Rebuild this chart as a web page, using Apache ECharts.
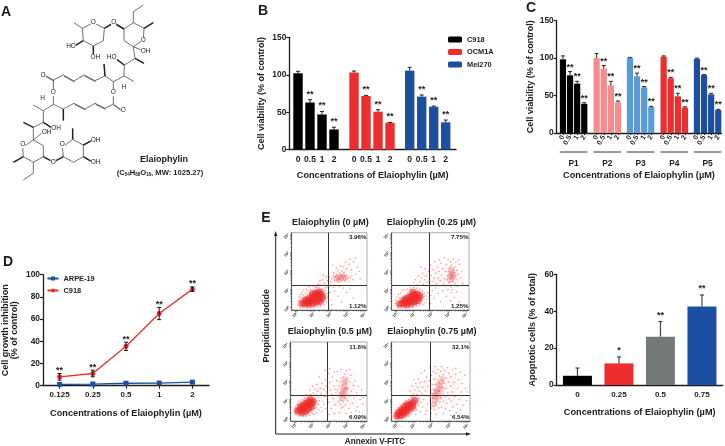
<!DOCTYPE html>
<html>
<head>
<meta charset="utf-8">
<title>Elaiophylin</title>
<style>html,body{margin:0;background:#fff}#main{width:725px;height:446px}</style>
<script src="https://cdn.jsdelivr.net/npm/echarts@6/dist/echarts.min.js"></script>
</head>
<body>
<div id="main"></div>
<script>
// panel B
var bConc = ['0', '0.5', '1', '2'];
var bC918 = [102, 63, 47, 27];
var bC918Top = [104.6, 66.7, 51, 30];
var bOcm = [103, 71.7, 50.7, 36];
var bOcmTop = [105, 72.5, 53.4, 36.3];
var bMel = [105.5, 70.8, 57.4, 36.5];
var bMelTop = [110, 73, 58.3, 39.6];
var bStars = ['', '**', '**', '**'];

// panel C
var cPassages = ['P1', 'P2', 'P3', 'P4', 'P5'];
var cVals = [[98.4, 77, 66, 39], [100, 86, 63.6, 41], [100.5, 75.7, 61, 34.7], [102, 73, 49, 34], [99, 77.4, 51.6, 30.7]];
var cTops = [[103, 82, 69, 40.5], [106, 90, 69, 42.7], [101, 80, 62, 35.6], [103, 74.3, 53, 35], [100, 78, 53, 31.6]];
var cColors = ['#000000', '#f58b8b', '#5b9ad6', '#ee2e2e', '#1c4fa1'];

// panel D
var dConc = ['0.125', '0.25', '0.5', '1', '2'];
var dArpe = [1.2, 1.5, 2.2, 2.4, 3.2];
var dArpeErr = [1, 1, 1, 1, 1];
var dC918 = [8, 11, 35.5, 65, 87];
var dC918Err = [3, 3, 3.7, 5.5, 2];
var dStars = ['**', '**', '**', '**', '**'];

// bar chart next to the flow plots
var fConc = ['0', '0.25', '0.5', '0.75'];
var fVals = [5, 11.7, 26.2, 42.5];
var fTops = [9.2, 15.2, 34.4, 48.8];
var fStars = ['', '*', '**', '**'];
var fColors = ['#000000', '#ee2e2e', '#747a7a', '#1c4fa1'];

// flow plots, log10 units of Annexin V-FITC and propidium iodide
var flowTitles = ['Elaiophylin (0 µM)', 'Elaiophylin (0.25 µM)', 'Elaiophylin (0.5 µM)', 'Elaiophylin (0.75 µM)'];
var flowUpper = ['3.96%', '7.75%', '11.8%', '32.1%'];
var flowLower = ['1.12%', '1.25%', '6.09%', '6.54%'];
var flowGates = [[1.83, 1.2], [1.86, 1.2], [1.83, 1.2], [1.88, 1.22]];

var flow0Core = [[0.3,0.22],[0.45,0.2],[0.6,0.28],[0.75,0.3],[0.9,0.35],[1.05,0.42],[1.2,0.45],[1.35,0.5],[0.5,0.4],[0.7,0.48],[0.9,0.55],[1.1,0.62],[1.25,0.68],[1.4,0.72],[0.7,0.18],[0.95,0.22],[1.15,0.28],[1.35,0.32],[1.5,0.55],[1.1,0.78],[0.9,0.72],[1.3,0.82]];
var flow0Mid = [[2.3,1.6],[2.55,1.65],[2.8,1.6],[2.45,1.5],[2.7,1.72]];
var flow0Haze = [[2.5,1.7],[2.9,1.7],[2.2,1.6],[3.05,2.3],[1.6,1.4],[1.5,1]];
var flow0Dots = [[2.05,1.55],[2.12,1.72],[2.2,1.48],[2.25,1.63],[2.3,1.8],[2.34,1.55],[2.38,1.42],[2.42,1.7],[2.46,1.6],[2.5,1.85],[2.53,1.5],[2.56,1.66],[2.6,1.75],[2.64,1.45],[2.68,1.6],[2.72,1.52],[2.75,1.9],[2.78,1.68],[2.82,1.44],[2.86,1.6],[2.9,1.75],[2.95,1.55],[3,1.66],[3.05,1.4],[3.12,1.6],[3.2,1.72],[3.28,1.5],[1.98,1.38],[2.15,1.9],[2.4,2],[2.62,1.98],[2.28,1.68],[2.48,1.52],[2.7,1.72],[2.52,1.72],[2.36,1.74],[2.84,1.52],[2.7,2.2],[2.9,2.1],[3.05,2.35],[3.2,2.05],[3.3,2.5],[3.42,2.68],[3.1,2.62],[2.85,2.45],[3.55,2.2],[3.65,1.95],[3.45,1.8],[3.7,1.55],[2.55,2.25],[2.3,2.15],[2.1,2.3],[1.4,1.2],[1.5,1.5],[1.6,1.3],[1.7,1.65],[1.75,1.1],[1.8,1.45],[1.55,1.75],[1.35,1.45],[1.25,1.25],[1.65,1.05],[1.85,1.25],[1.9,1.65],[1.15,1.1],[2,0.4],[2.2,0.9],[2.4,0.6],[2.6,0.3],[2.9,0.8],[2.15,1.1],[2.5,1.15],[3.1,1],[1.95,0.8],[2.05,0.15],[2.7,1.05],[3.3,0.5],[0.05,0.1],[0.1,0.35],[0.12,0.55],[0.2,0.7],[0.3,0.8],[0.4,0.95],[0.55,1],[0.7,1.1],[0.9,1.15],[1.05,1.08],[1.3,1.05],[1.5,0.95],[1.65,0.9],[1.75,0.75],[1.8,0.55],[1.75,0.3],[1.6,0.15],[1.4,0.08],[1.2,0.05],[1,0.02],[0.8,0],[0.6,0],[0.4,0.02],[0.2,0],[1.85,0.65],[1.7,0.45],[1.55,0.3],[0.25,0.55],[0.35,0.68],[0.5,0.78],[0.6,0.9],[0.8,0.95],[1.45,1],[1.6,0.75],[1.65,0.6]];

var flow1Core = [[0.15,0.18],[0.3,0.2],[0.45,0.25],[0.6,0.3],[0.75,0.36],[0.9,0.42],[1.05,0.48],[1.2,0.52],[0.4,0.4],[0.55,0.48],[0.7,0.55],[0.85,0.62],[1,0.68],[1.15,0.72],[0.55,0.15],[0.8,0.2],[1,0.3],[1.2,0.36],[1.3,0.62],[0.9,0.82]];
var flow1Mid = [[3.1,1.9],[3.1,1.75],[3.15,1.62],[3,1.68],[3.22,1.78],[3.05,1.48],[3.12,2.05]];
var flow1Haze = [[3.1,1.8],[3.1,1.2],[3.1,2.3],[2.5,1.8],[2.5,1.3],[2,1.8],[1.5,1.6],[3.5,1.6]];
var flow1Dots = [[2.85,1.5],[2.9,1.72],[2.92,1.95],[2.95,2.1],[2.98,1.35],[3,1.85],[3.02,2.2],[3.05,1.2],[3.08,1.1],[3.1,2.3],[3.14,0.95],[3.18,1.4],[3.2,2.05],[3.25,1.55],[3.28,1.9],[3.3,2.2],[3.32,1.3],[3.35,1.7],[3.4,2],[3.42,1.5],[3.45,1.15],[3.5,1.8],[3.55,2.35],[3.6,1.6],[2.8,2.35],[2.75,1.95],[2.7,1.55],[2.65,1.3],[2.6,2.1],[2.55,1.75],[2.5,2.4],[2.45,1.45],[2.4,1.95],[2.35,1.6],[2.3,2.2],[2.25,1.3],[2.2,1.85],[2.15,2.5],[2.1,1.6],[2.05,2.05],[2,1.4],[1.95,1.75],[1.9,2.3],[1.85,1.55],[1.8,1.95],[1.72,1.35],[1.65,1.7],[1.6,2.1],[1.55,1.5],[1.5,1.25],[1.45,1.85],[1.4,1.6],[1.35,2.2],[1.3,1.4],[1.25,1.7],[1.15,1.25],[1.05,1.5],[0.95,1.35],[3.05,2.5],[3.2,2.62],[2.9,2.6],[2.7,2.7],[3.35,2.45],[3.5,2.6],[2.4,2.6],[3.7,1.95],[3.75,1.3],[3.1,0.8],[3.25,0.55],[3.05,0.35],[2.9,0.95],[2.8,0.6],[2.6,0.9],[2.5,0.3],[2.35,0.75],[2.2,1.05],[2.1,0.5],[2,0.9],[1.9,0.2],[1.92,0.65],[3.4,0.85],[3.55,0.3],[-0.1,0.2],[-0.05,0.4],[0,0.55],[0.08,0.7],[0.2,0.78],[0.3,0.92],[0.45,0.95],[0.6,1],[0.78,1.05],[0.95,1.08],[1.15,1.05],[1.3,0.98],[1.45,0.9],[1.55,0.78],[1.65,0.62],[1.7,0.42],[1.6,0.25],[1.48,0.16],[1.3,0.1],[1.1,0.06],[0.9,0.03],[0.7,0],[0.45,0],[0.25,0.02],[0.05,0],[1.75,0.8],[1.82,0.5],[1.4,0.4],[1.5,0.55],[0.15,0.5]];

var flow2Core = [[0.1,0.38],[0.22,0.42],[0.35,0.48],[0.5,0.55],[0.62,0.62],[0.75,0.72],[0.88,0.8],[1,0.88],[0.25,0.6],[0.4,0.68],[0.55,0.78],[0.7,0.88],[0.85,0.98],[0.35,0.3],[0.55,0.36],[0.72,0.48],[0.9,0.6]];
var flow2Mid = [[2.78,1.9],[2.82,1.72],[2.76,1.55],[2.7,1.4],[2.74,1.22],[2.68,1.05],[2.86,1.5],[2.62,1.28],[2.84,2.05]];
var flow2Haze = [[2.75,1.5],[2.75,1],[2.75,2.1],[3.2,1.5],[3.3,0.9],[2.2,1.7],[2.2,1],[1.6,1.6],[1.1,1.5],[3.2,2.2],[2.4,0.5]];
var flow2Dots = [[2.4,1.5],[2.45,1.2],[2.48,0.9],[2.5,1.7],[2.52,1.05],[2.55,1.95],[2.58,0.75],[2.6,1.6],[2.62,2.15],[2.65,0.95],[2.68,1.75],[2.7,0.6],[2.72,2.2],[2.75,0.85],[2.8,2.35],[2.82,1.1],[2.85,0.7],[2.9,1.85],[2.92,1.3],[2.95,2.1],[2.98,0.95],[3,1.6],[3.05,0.5],[3.08,1.95],[3.1,1.2],[3.15,2.3],[3.2,1.45],[3.25,0.8],[3.3,1.75],[3.35,1.05],[3.4,2],[3.5,1.35],[3.55,0.6],[3.6,1.7],[3.7,1],[3.8,1.5],[3.85,0.75],[2.35,2],[2.3,1.35],[2.25,0.7],[2.2,1.7],[2.15,1.05],[2.1,2.2],[2.05,0.5],[2,1.5],[1.95,1.9],[1.9,0.85],[1.88,2.4],[1.8,1.4],[1.75,1.7],[1.7,2.05],[1.65,1.15],[1.6,1.55],[1.55,0.9],[1.5,1.85],[1.45,1.3],[1.4,1.6],[1.35,2.2],[1.3,1.1],[1.25,1.45],[1.2,1.8],[1.15,1.25],[1.1,1.55],[1,1.35],[0.95,1.7],[0.85,1.25],[0.8,1.5],[2.4,2.5],[2.6,2.6],[2.9,2.55],[2.2,2.45],[3.1,2.6],[1.7,2.55],[1.95,2.65],[2.5,0.3],[2.9,0.25],[3.2,0.3],[2.2,0.25],[1.9,0.2],[1.7,0.5],[1.5,0.35],[1.6,0.75],[1.45,0.6],[1.3,0.75],[1.3,0.45],[1.2,0.3],[1.15,0.55],[1.1,1.05],[1.05,0.2],[0.95,0.25],[0.8,0.15],[0.6,0.12],[0.4,0.1],[0.2,0.12],[0,0.18],[-0.05,0.35],[-0.02,0.55],[0.08,0.75],[0.18,0.9],[0.35,1],[0.5,1.08],[0.68,1.12],[1.22,0.9],[1.35,0.95],[1.05,0.7],[0.6,1.25],[0.4,1.2],[3.45,0.4],[3.65,0.35],[3.9,1.1],[2.1,1.25],[2.28,1.55],[2.55,1.35],[2.6,0.55],[2.95,1.6],[2.88,1.55],[2.9,1.05]];

var flow3Core = [[0,0.12],[0.12,0.2],[0.25,0.3],[0.38,0.4],[0.5,0.5],[0.62,0.6],[0.75,0.72],[0.88,0.82],[1,0.95],[0.1,0.32],[0.28,0.46],[0.45,0.62],[0.6,0.74],[0.22,0.14],[0.4,0.25],[0.55,0.36],[0.72,0.5],[0.88,0.62]];
var flow3Mid = [[2.1,0.95],[2.18,1.15],[2.25,1.35],[2.32,1.55],[2.42,1.75],[2.48,1.95],[2.55,2.12],[2.2,1.45],[2.3,1.8],[2.45,1.5],[2.12,1.25],[2.05,0.75],[2.35,1.1]];
var flow3Haze = [[2.4,1.6],[2.2,1],[2.9,1.5],[2.9,2.1],[2.9,0.9],[3.4,1.5],[3.4,0.9],[3.3,2.1],[1.9,1.8],[1.9,1.1],[1.4,1.6],[1,1.5],[2.3,2.4],[2.4,0.5]];
var flow3Dots = [[1.4,1.3],[1.45,1.65],[1.5,1],[1.55,1.95],[1.6,1.45],[1.65,2.2],[1.7,0.75],[1.72,1.7],[1.78,1.2],[1.82,2],[1.85,0.9],[1.9,1.5],[1.92,2.3],[1.95,0.55],[1.98,1.8],[2,1.1],[2.02,2.5],[2.05,1.55],[2.08,2.1],[2.1,0.45],[2.15,1.8],[2.18,2.4],[2.2,0.7],[2.25,2.05],[2.28,0.95],[2.3,2.6],[2.35,0.55],[2.38,2.25],[2.4,0.85],[2.42,1.3],[2.45,2.5],[2.48,1.1],[2.5,0.6],[2.55,1.65],[2.58,1.3],[2.6,2.35],[2.62,0.9],[2.65,1.85],[2.68,2.55],[2.7,1.15],[2.72,0.5],[2.75,1.6],[2.78,2.15],[2.8,0.8],[2.85,1.35],[2.88,1.95],[2.9,2.4],[2.92,1.05],[2.95,0.4],[3,1.7],[3.02,2.2],[3.05,0.9],[3.1,1.4],[3.12,2.6],[3.15,0.6],[3.2,1.9],[3.25,1.15],[3.3,2.35],[3.35,0.75],[3.4,1.6],[3.45,2.05],[3.5,1],[3.55,0.45],[3.6,1.4],[3.65,1.85],[3.7,0.7],[3.75,1.2],[3.8,2.3],[3.85,1.6],[3.9,0.95],[3.95,1.4],[1.3,1.9],[1.25,1.45],[1.2,2.1],[1.15,1.65],[1.1,1.25],[1.05,1.85],[1,1.5],[0.95,2.05],[0.9,1.3],[0.85,1.7],[0.8,1.15],[0.72,1.45],[1.35,2.4],[1.55,2.55],[1.85,2.7],[2.15,2.75],[2.5,2.75],[2.85,2.7],[3.3,2.65],[3.55,2.45],[1.65,0.4],[1.45,0.6],[1.35,0.85],[1.3,0.35],[1.2,0.7],[1.25,1.05],[1.1,0.45],[1.05,0.2],[0.95,0.38],[0.8,0.22],[0.65,0.12],[0.45,0.08],[0.25,0.02],[0.02,0],[-0.1,0.1],[-0.1,0.3],[0,0.42],[0.1,0.55],[0.22,0.68],[0.35,0.8],[0.5,0.92],[0.65,1],[0.8,1.08],[0.95,1.12],[1.15,0.95],[1.6,0.2],[1.9,0.25],[2.2,0.2],[2.6,0.25],[3,0.15],[3.35,0.3],[2.15,1.5],[2.25,1.2],[2.35,1.95],[2.5,1.7],[2.58,1.95],[2.62,1.6],[2.38,1.45],[2.2,0.85],[2.02,1.05],[1.98,1.3],[2.05,0.62]];

// Panel A structure, traced in reference pixels x 3
var molBonds = [
  [[222,68],[247,85],[280,68],[313,85],[310,122],[280,138],[250,122],[247,85]],
  [[372,87],[400,68],[432,85],[430,120],[400,140],[372,122],[372,87]],
  [[400,68],[400,35],[430,15]],
  [[400,140],[425,150]], [[400,140],[405,175],[373,195],[372,228],[402,245]],
  [[372,228],[340,245],[315,228]], [[340,245],[340,272]], [[340,285],[340,312],[315,325]],
  [[285,310],[255,327]], [[222,310],[190,327],[160,313],[160,285]], [[160,270],[160,240]],
  [[160,240],[190,225]], [[222,243],[252,225]], [[285,242],[315,228]],
  [[160,313],[130,332],[100,315]], [[130,332],[130,367],[100,382],[100,420],[130,437],[130,470],[100,487],[70,470],[68,442],[100,420]],
  [[100,420],[125,400]], [[100,487],[100,520],[70,540]],
  [[190,470],[187,442],[218,418],[250,435],[250,470],[220,487],[190,470]]
];
var molWedges = [
  [[250,122],[225,137]], [[280,138],[280,165]], [[313,85],[335,72]], [[347,72],[372,87]],
  [[432,85],[460,68]], [[405,175],[432,190]], [[373,195],[350,178]], [[315,228],[312,192]],
  [[190,327],[190,362]], [[130,367],[155,383]], [[100,382],[70,367]], [[70,470],[40,487]],
  [[130,470],[152,482]], [[168,482],[190,470]], [[218,418],[218,385]], [[250,435],[275,422]], [[250,470],[275,485]]
];
var molDoubles = [
  [[340,312],[362,328]], [[315,325],[285,310]], [[255,327],[222,310]], [[160,240],[137,227]],
  [[190,225],[222,243]], [[252,225],[285,242]]
];
var molAtoms = [
  ['O',280,68], ['O',341,68], ['O',430,122], ['HO',213,138], ['OH',286,173], ['OH',437,155], ['HO',335,173],
  ['H',372,262], ['O',340,278], ['O',370,331], ['O',129,226], ['O',160,278], ['H',128,295], ['OH',168,384],
  ['OH',140,398], ['O',68,434], ['O',160,487], ['O',187,434], ['OH',287,420], ['OH',287,487]
];

var FONT = '"Liberation Sans", Arial, sans-serif';
var INK = '#1c1c1c';
var grid = [], xAxis = [], yAxis = [], series = [], graphic = [];

function addGrid(box, xa, ya) {
    var i = grid.length;
    grid.push({ left: box[0], top: box[1], width: box[2], height: box[3] });
    xAxis.push(Object.assign({ gridIndex: i }, xa));
    yAxis.push(Object.assign({ gridIndex: i }, ya));
    return i;
}
function label(size) {
    return { color: INK, fontFamily: FONT, fontWeight: 'bold', fontSize: size };
}
function text(x, y, str, size, extra) {
    graphic.push(Object.assign({
        type: 'text', x: x, y: y,
        style: Object.assign({ text: str, font: 'bold ' + size + 'px ' + FONT, fill: INK, align: 'center', verticalAlign: 'middle' }, (extra && extra.style) || {})
    }, extra && extra.rotation !== undefined ? { rotation: extra.rotation } : {}));
}
function line(x1, y1, x2, y2, w, color) {
    graphic.push({ type: 'line', shape: { x1: x1, y1: y1, x2: x2, y2: y2 }, style: { stroke: color || INK, lineWidth: w } });
}
function valueAxis(max, step, name, gap) {
    return {
        type: 'value', min: 0, max: max, interval: step, splitLine: { show: false },
        axisLine: { show: true, lineStyle: { color: INK, width: 1.3 } },
        axisTick: { show: true, length: 3, lineStyle: { color: INK, width: 1.2 } },
        axisLabel: Object.assign(label(8.4), { margin: 3 }),
        name: name, nameLocation: 'middle', nameGap: gap, nameRotate: 90, nameTextStyle: label(9)
    };
}
function hiddenY(max) {
    return { type: 'value', min: 0, max: max, show: false };
}
function baseX(name, gap) {
    return {
        type: 'value', min: 0, max: 1, splitLine: { show: false },
        axisLine: { show: true, onZero: false, lineStyle: { color: INK, width: 1.3 } },
        axisTick: { show: false }, axisLabel: { show: false },
        name: name, nameLocation: 'middle', nameGap: gap, nameTextStyle: label(9.2)
    };
}
// error whisker and star marks, placed through the grid's own axes
function whiskers(g, vals, tops, lows, stars, gap, color, width) {
    series.push({
        type: 'custom', xAxisIndex: g, yAxisIndex: g, silent: true, z: 5,
        data: vals.map(function (v, i) { return [i, v, tops[i], lows ? lows[i] : v]; }),
        encode: { x: 0, y: 1 },
        renderItem: function (params, api) {
            var i = api.value(0);
            var a = api.coord([i, api.value(2)]);
            var b = api.coord([i, api.value(3)]);
            var st = { stroke: color, lineWidth: width || 1, fill: 'none' };
            var kids = [
                { type: 'line', shape: { x1: a[0], y1: a[1], x2: b[0], y2: b[1] }, style: st },
                { type: 'line', shape: { x1: a[0] - 2, y1: a[1], x2: a[0] + 2, y2: a[1] }, style: st }
            ];
            if (lows) kids.push({ type: 'line', shape: { x1: b[0] - 2, y1: b[1], x2: b[0] + 2, y2: b[1] }, style: st });
            var s = stars[params.dataIndex];
            if (s) kids.push({ type: 'text', x: a[0], y: a[1] - gap, style: { text: s, font: 'bold 9px ' + FONT, fill: INK, align: 'center', verticalAlign: 'middle' } });
            return { type: 'group', children: kids };
        }
    });
}

// ---------- panel letters ----------
text(6, 12, 'A', 14); text(263, 11, 'B', 14); text(531, 8, 'C', 14); text(8, 262, 'D', 14); text(266, 218, 'E', 14);

// ---------- A ----------
molBonds.forEach(function (b) {
    graphic.push({ type: 'polyline', shape: { points: b.map(function (p) { return [p[0] / 3, p[1] / 3]; }) }, style: { stroke: '#333', lineWidth: 0.7, fill: 'none' } });
});
molWedges.forEach(function (b) { line(b[0][0] / 3, b[0][1] / 3, b[1][0] / 3, b[1][1] / 3, 1.5, '#222'); });
molDoubles.forEach(function (b) {
    line(b[0][0] / 3, b[0][1] / 3, b[1][0] / 3, b[1][1] / 3, 0.7, '#333');
    line(b[0][0] / 3 + 0.6, b[0][1] / 3 + 1.1, b[1][0] / 3 + 0.6, b[1][1] / 3 + 1.1, 0.7, '#333');
});
molAtoms.forEach(function (a) {
    graphic.push({ type: 'text', x: a[1] / 3, y: a[2] / 3, z: 3, style: { text: a[0], font: '6.5px ' + FONT, fill: '#222', align: 'center', verticalAlign: 'middle', backgroundColor: '#fff' } });
});
text(164, 160, 'Elaiophylin', 9);
text(160, 173, '(C{s|54}H{s|88}O{s|18}, MW: 1025.27)', 7.6, { style: { rich: { s: { font: 'bold 4.5px ' + FONT, fill: INK, verticalAlign: 'bottom', padding: [3, 0, 0, 0] } } } });

// ---------- B ----------
addGrid([289.3, 37.3, 166.7, 112.4], baseX('Concentrations of Elaiophylin (µM)', 21), valueAxis(150, 50, 'Cell viability (% of control)', 23));
[['C918', bC918, bC918Top, '#000000', 292], ['OCM1A', bOcm, bOcmTop, '#ee2e2e', 348], ['Mel270', bMel, bMelTop, '#1c4fa1', 403.7]].forEach(function (g) {
    var i = addGrid([g[4], 37.3, 48, 112.4], {
        type: 'category', data: bConc, axisLine: { show: false }, axisTick: { show: false },
        axisLabel: Object.assign(label(8.5), { margin: 5, interval: 0 })
    }, hiddenY(150));
    series.push({ type: 'bar', name: g[0], xAxisIndex: i, yAxisIndex: i, data: g[1], barWidth: 9.4, itemStyle: { color: g[3] }, z: 3 });
    whiskers(i, g[1], g[2], null, bStars, 5.5, '#222');
});

// ---------- C ----------
addGrid([556.7, 20.7, 164.6, 112.3], baseX('Concentrations of Elaiophylin (µM)', 38), valueAxis(150, 50, 'Cell viability (% of control)', 21.5));
var cStarts = [559.4, 593.1, 626.4, 660.1, 693.4];
cPassages.forEach(function (p, k) {
    var i = addGrid([cStarts[k], 20.7, 28.4, 112.3], {
        type: 'category', data: bConc, axisLine: { show: false },
        axisTick: { show: true, alignWithLabel: true, length: 2, lineStyle: { color: INK, width: 1 } },
        axisLabel: Object.assign(label(7), { margin: 3, interval: 0, rotate: 60 }),
        name: p, nameLocation: 'middle', nameGap: 26.5, nameTextStyle: label(8.4)
    }, hiddenY(150));
    series.push({ type: 'bar', name: p, xAxisIndex: i, yAxisIndex: i, data: cVals[k], barWidth: 6.2, itemStyle: { color: cColors[k] }, z: 3 });
    whiskers(i, cVals[k], cTops[k], null, bStars, 4.5, '#222');
    line(cStarts[k] + 0.4, 152, cStarts[k] + 28, 152, 0.9);
});

// ---------- D ----------
var dg = addGrid([41.7, 274.7, 167.3, 111], {
    type: 'category', data: dConc, name: 'Concentrations of Elaiophylin (µM)', nameLocation: 'middle', nameGap: 23, nameTextStyle: label(9.2),
    axisLine: { show: true, lineStyle: { color: INK, width: 1.3 } },
    axisTick: { show: true, alignWithLabel: true, length: 3, lineStyle: { color: INK, width: 1.1 } },
    axisLabel: Object.assign(label(8), { margin: 5, interval: 0 })
}, valueAxis(100, 20, 'Cell growth inhibition\n(% of control)', 24));
series.push({ type: 'line', name: 'ARPE-19', xAxisIndex: dg, yAxisIndex: dg, data: dArpe, symbol: 'rect', symbolSize: 5, lineStyle: { color: '#1c4fa1', width: 1.3 }, itemStyle: { color: '#1c4fa1' }, z: 3 });
series.push({ type: 'line', name: 'C918 ', xAxisIndex: dg, yAxisIndex: dg, data: dC918, symbol: 'circle', symbolSize: 5, lineStyle: { color: '#ee2e2e', width: 1.3 }, itemStyle: { color: '#ee2e2e' }, z: 3 });
whiskers(dg, dArpe, dArpe.map(function (v, i) { return v + dArpeErr[i]; }), dArpe.map(function (v, i) { return v - dArpeErr[i]; }), ['', '', '', '', ''], 0, '#1c4fa1');
whiskers(dg, dC918, dC918.map(function (v, i) { return v + dC918Err[i]; }), dC918.map(function (v, i) { return v - dC918Err[i]; }), dStars, 3, '#111');

// ---------- E flow plots ----------
var flowBoxes = [[291.7, 232.7, 75.3, 77.3], [391.7, 232.7, 77.3, 77.3], [290.7, 342, 76.3, 79], [391.7, 342, 78.3, 79]];
var flowCores = [flow0Core, flow1Core, flow2Core, flow3Core];
var flowMids = [flow0Mid, flow1Mid, flow2Mid, flow3Mid];
var flowHazes = [flow0Haze, flow1Haze, flow2Haze, flow3Haze];
var flowDots = [flow0Dots, flow1Dots, flow2Dots, flow3Dots];
var decades = [0, 1, 2, 3, 4];
var supers = ['\u2070', '\u00b9', '\u00b2', '\u00b3', '\u2074'];
var minors = [];
decades.forEach(function (d) { if (d < 4) [1, 2, 3, 4, 5, 6, 7, 8, 9].forEach(function (m) { minors.push(d + Math.log10(m)); }); });
minors.push(4);
function flowAxis(min, max, rotate) {
    return {
        type: 'value', min: min, max: max, splitLine: { show: false },
        axisLine: { show: true, onZero: false, lineStyle: { color: '#444', width: 0.8 } },
        axisTick: { show: true, customValues: minors, length: 1.5, lineStyle: { color: '#444', width: 0.5 } },
        axisLabel: { customValues: decades, rotate: rotate, fontSize: 4, margin: 3, color: '#333', fontFamily: FONT, fontWeight: 'bold', formatter: function (v) { return '10' + supers[Math.round(v)]; } }
    };
}
flowBoxes.forEach(function (b, k) {
    var i = addGrid(b, flowAxis(-0.3, 4.1, 45), flowAxis(-0.15, 4.07, 45));
    grid[i].show = true; grid[i].borderColor = '#777'; grid[i].borderWidth = 0.6;
    series.push({ type: 'scatter', xAxisIndex: i, yAxisIndex: i, data: flowHazes[k], symbolSize: 16, itemStyle: { color: '#f28080', opacity: 0.045 }, z: 1 });
    series.push({ type: 'scatter', xAxisIndex: i, yAxisIndex: i, data: flowDots[k], symbolSize: 1.5, itemStyle: { color: '#ee3a3a', opacity: 0.55 }, z: 2,
        markLine: { silent: true, symbol: 'none', label: { show: false }, animation: false, lineStyle: { color: '#333', width: 1, type: 'solid' }, data: [{ xAxis: flowGates[k][0] }, { yAxis: flowGates[k][1] }] } });
    series.push({ type: 'scatter', xAxisIndex: i, yAxisIndex: i, data: flowMids[k], symbolSize: 6, itemStyle: { color: '#ee3a3a', opacity: 0.22 }, z: 2 });
    series.push({ type: 'scatter', xAxisIndex: i, yAxisIndex: i, data: flowCores[k], symbolSize: 11, itemStyle: { color: '#ee3a3a', opacity: 0.1 }, z: 2 });
    series.push({ type: 'scatter', xAxisIndex: i, yAxisIndex: i, data: flowCores[k], symbolSize: 7, itemStyle: { color: '#ee2a2a', opacity: 0.6 }, z: 2 });
    text(b[0] + b[2] / 2 + 1, b[1] - 10.5, flowTitles[k], 9);
    text(b[0] + b[2] - 0.5, b[1] + 5, flowUpper[k], 6.2, { style: { align: 'right' } });
    text(b[0] + b[2] - 0.5, b[1] + b[3] - 4, flowLower[k], 6.2, { style: { align: 'right' } });
});
line(275.7, 434, 275.7, 235, 1);
line(275.7, 434, 468, 434, 1);
graphic.push({ type: 'polygon', shape: { points: [[275.7, 231], [274, 236], [277.4, 236]] }, style: { fill: INK } });
graphic.push({ type: 'polygon', shape: { points: [[471, 434], [466, 432.3], [466, 435.7]] }, style: { fill: INK } });
text(267, 325.7, 'Propidium Iodide', 9, { rotation: Math.PI / 2 });
text(375, 441.5, 'Annexin V-FITC', 8.2);

// ---------- apoptosis bars ----------
var fg = addGrid([556.7, 274.3, 166, 110.7], {
    type: 'category', data: fConc, name: 'Concentrations of Elaiophylin (µM)', nameLocation: 'middle', nameGap: 22.5, nameTextStyle: label(9.2),
    axisLine: { show: true, lineStyle: { color: INK, width: 1.3 } }, axisTick: { show: false },
    axisLabel: Object.assign(label(8), { margin: 6, interval: 0 })
}, valueAxis(60, 20, 'Apoptotic cells (% of total)', 20));
series.push({
    type: 'bar', xAxisIndex: fg, yAxisIndex: fg, barWidth: 29, z: 3,
    data: fVals.map(function (v, i) { return { value: v, itemStyle: { color: fColors[i] } }; })
});
whiskers(fg, fVals, fTops, null, fStars, 6.5, '#444', 1.2);

var chart = echarts.init(document.getElementById('main'));
chart.setOption({
    animation: false,
    backgroundColor: '#fff',
    textStyle: { fontFamily: FONT },
    tooltip: { show: false },
    legend: [
        { data: ['C918', 'OCM1A', 'Mel270'], orient: 'vertical', left: 443, top: 31, itemWidth: 14, itemHeight: 6, itemGap: 5.5, selectedMode: false, textStyle: label(7.4) },
        { data: ['ARPE-19', 'C918 '], orient: 'vertical', left: 44.5, top: 273, itemWidth: 11, itemHeight: 5, itemGap: 5, selectedMode: false, textStyle: label(7.4), padding: 2 }
    ],
    grid: grid, xAxis: xAxis, yAxis: yAxis, series: series, graphic: graphic
});
window.onresize = chart.resize;
</script>
</body>
</html>
